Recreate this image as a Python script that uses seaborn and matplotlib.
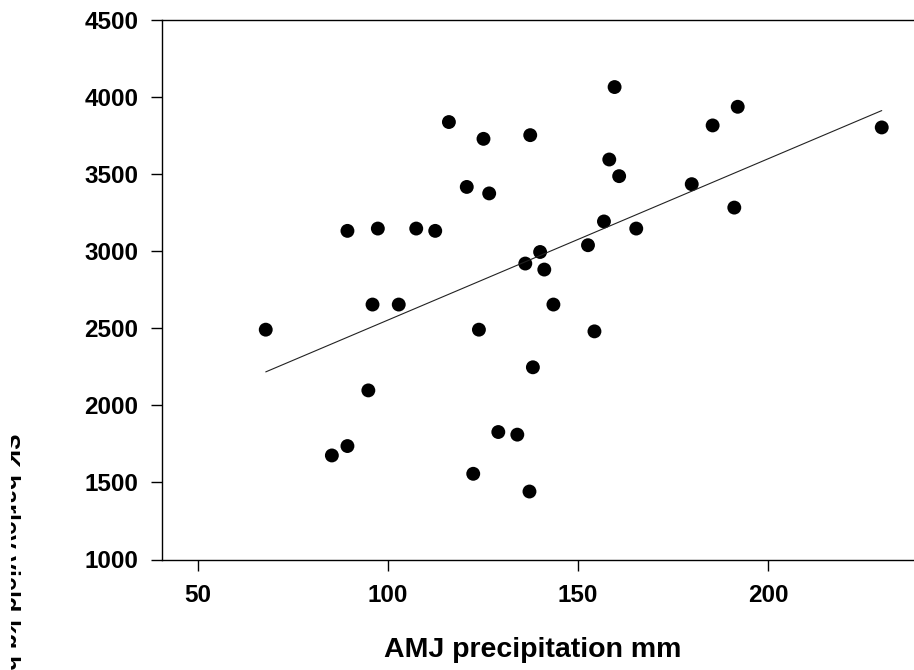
import matplotlib
matplotlib.use("Agg")
import matplotlib.pyplot as plt
import pandas as pd
import seaborn as sns
from matplotlib.transforms import Bbox, TransformedBbox

# values
precip_mm = [67.8, 85.2, 89.3, 89.3, 94.8, 95.9, 97.3, 102.8, 107.4, 112.4,
             116.0, 120.7, 122.4, 123.9, 125.1, 126.6, 129.0, 134.0, 136.1, 137.2,
             137.4, 138.1, 140.0, 141.1, 143.5, 152.6, 154.3, 156.8, 158.2, 159.6,
             160.8, 165.3, 179.9, 185.4, 191.1, 192.0, 229.9]
yield_kg = [2491, 1675, 1736, 3132, 2097, 2654, 3147, 2654, 3147, 3132,
            3838, 3417, 1556, 2491, 3729, 3375, 1827, 1810, 2920, 1441,
            3753, 2247, 2995, 2881, 2654, 3039, 2480, 3193, 3595, 4065,
            3487, 3147, 3435, 3816, 3283, 3937, 3803]
x_ticks = [50, 100, 150, 200]
y_ticks = [1000, 1500, 2000, 2500, 3000, 3500, 4000, 4500]

df = pd.DataFrame({"precip": precip_mm, "yield": yield_kg})

sns.set_style("white")
plt.rcParams["font.family"] = ["Liberation Sans", "DejaVu Sans"]
plt.rcParams["font.weight"] = "bold"
plt.rcParams["text.color"] = "black"
plt.rcParams["axes.labelcolor"] = "black"
plt.rcParams["xtick.color"] = "black"
plt.rcParams["ytick.color"] = "black"

W, H = 914, 670
fig = plt.figure(figsize=(W / 100, H / 100), dpi=100)
ax = fig.add_axes([162 / W, 1 - 559.5 / H, (930 - 162) / W, (559.5 - 20) / H])

sns.regplot(data=df, x="precip", y="yield", ax=ax, ci=None,
            scatter_kws={"s": 100, "color": "black", "edgecolor": "none", "alpha": 1},
            line_kws={"color": "#222222", "linewidth": 0.8})

ax.set_xlim(40.5, 242.6)
ax.set_ylim(1000, 4500)
ax.set_xticks(x_ticks)
ax.set_yticks(y_ticks)
ax.tick_params(axis="both", direction="out", length=8, width=1,
               labelsize=17.5, left=True, bottom=True)
ax.tick_params(axis="x", pad=10)
ax.tick_params(axis="y", pad=9)
for lab in ax.get_xticklabels() + ax.get_yticklabels():
    lab.set_fontweight("bold")

ax.spines["right"].set_visible(False)
for s in ["left", "top", "bottom"]:
    ax.spines[s].set_color("black")
    ax.spines[s].set_linewidth(1)

ax.set_xlabel("AMJ precipitation mm", fontsize=20.5, fontweight="bold")
ax.xaxis.set_label_coords((532.5 - 162) / (930 - 162), -(637 - 559.5) / 539.5)
ax.set_ylabel("")

# y label runs off the left edge in the reference, so clip it the same way
ylab = fig.text(24 / W, 1 - 432 / H, r"SK barley yield kg ha$^{-1}$", rotation=270,
                fontsize=18, fontweight="bold", ha="right", va="top")
ylab.set_clip_box(TransformedBbox(Bbox([[11 / W, 0], [0.1, 1]]), fig.transFigure))
ylab.set_clip_on(True)

fig.savefig("out.png", dpi=100)
